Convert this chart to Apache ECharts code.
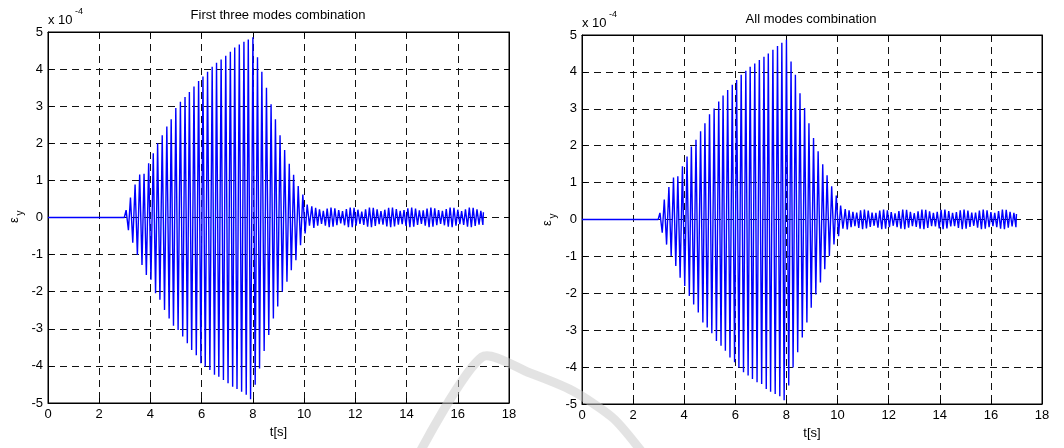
<!DOCTYPE html>
<html>
<head>
<meta charset="utf-8">
<script src="https://cdn.jsdelivr.net/npm/echarts@6/dist/echarts.min.js"></script>
<style>
html,body{margin:0;padding:0;background:#fff;}
#chart{width:1064px;height:448px;}
</style>
</head>
<body>
<div id="chart"></div>
<script>
// strain values are in units of 1e-4, time in seconds
var xTicks = [0, 2, 4, 6, 8, 10, 12, 14, 16, 18];
var yTicks = [-5, -4, -3, -2, -1, 0, 1, 2, 3, 4, 5];

// flat part before the excitation starts
var flatT = [0, 2.98];
var flatV = [0, 0];

// times of the extrema (shared by both plots)
var mainPeakT = [3.05, 3.22, 3.40, 3.58, 3.75, 3.93, 4.11, 4.28, 4.46, 4.64, 4.81, 4.99, 5.17, 5.35, 5.52, 5.70, 5.88, 6.05, 6.23, 6.41, 6.58, 6.76, 6.94, 7.12, 7.29, 7.47, 7.65, 7.82, 8.00, 8.18, 8.35, 8.53, 8.71, 8.88, 9.06, 9.24, 9.42, 9.59, 9.77, 9.95, 10.12];
var mainTroughT = [3.14, 3.31, 3.49, 3.67, 3.84, 4.02, 4.20, 4.37, 4.55, 4.73, 4.90, 5.08, 5.26, 5.44, 5.61, 5.79, 5.97, 6.14, 6.32, 6.50, 6.67, 6.85, 7.03, 7.21, 7.38, 7.56, 7.74, 7.91, 8.09, 8.26, 8.44, 8.62, 8.80, 8.97, 9.15, 9.33, 9.50, 9.68, 9.86, 10.04, 10.21];
var tailPeakT = [10.30, 10.45, 10.60, 10.75, 10.90, 11.05, 11.20, 11.35, 11.50, 11.65, 11.80, 11.95, 12.10, 12.25, 12.40, 12.55, 12.70, 12.85, 13.00, 13.15, 13.30, 13.45, 13.60, 13.75, 13.90, 14.05, 14.20, 14.35, 14.50, 14.65, 14.80, 14.95, 15.10, 15.25, 15.40, 15.55, 15.70, 15.85, 16.00, 16.15, 16.30, 16.45, 16.60, 16.75, 16.90, 17.00];
var tailTroughT = [10.38, 10.53, 10.68, 10.83, 10.98, 11.13, 11.28, 11.43, 11.58, 11.73, 11.88, 12.03, 12.18, 12.33, 12.48, 12.63, 12.78, 12.93, 13.08, 13.23, 13.38, 13.53, 13.68, 13.83, 13.98, 14.13, 14.28, 14.43, 14.58, 14.73, 14.88, 15.03, 15.18, 15.33, 15.48, 15.63, 15.78, 15.93, 16.08, 16.23, 16.38, 16.53, 16.68, 16.83, 16.98];

// First three modes combination
var firstPeaks = [0.20, 0.54, 0.89, 1.16, 1.18, 1.46, 1.73, 2.00, 2.22, 2.45, 2.65, 2.95, 3.12, 3.25, 3.38, 3.53, 3.68, 3.80, 3.93, 4.06, 4.17, 4.26, 4.36, 4.47, 4.58, 4.66, 4.74, 4.80, 4.86,
  4.32, 3.93, 3.50, 3.05, 2.65, 2.22, 1.82, 1.45, 1.15, 0.85, 0.62, 0.35];
var firstTroughs = [-0.34, -0.68, -1.01, -1.28, -1.55, -1.68, -2.04, -2.22, -2.49, -2.72, -2.92, -3.03, -3.21, -3.39, -3.57, -3.71, -3.93, -4.02, -4.11, -4.24, -4.29, -4.38, -4.47, -4.56, -4.62, -4.70, -4.78, -4.90,
  -4.51, -4.07, -3.60, -3.17, -2.72, -2.40, -2.00, -1.73, -1.42, -1.15, -0.75, -0.43, -0.22];
var firstTailPeaks = [0.30, 0.26, 0.22, 0.18, 0.24, 0.27, 0.25, 0.20, 0.17, 0.23, 0.27, 0.26, 0.21, 0.16, 0.22, 0.27, 0.26, 0.22, 0.17, 0.21, 0.26, 0.27, 0.23, 0.18, 0.20, 0.25, 0.27, 0.24, 0.19, 0.19, 0.24, 0.27, 0.25, 0.20, 0.18, 0.23, 0.27, 0.26, 0.21, 0.17, 0.22, 0.27, 0.26, 0.22, 0.18, 0.14];
var firstTailTroughs = [-0.28, -0.22, -0.17, -0.22, -0.26, -0.25, -0.21, -0.16, -0.21, -0.26, -0.26, -0.22, -0.17, -0.20, -0.25, -0.26, -0.23, -0.18, -0.19, -0.24, -0.26, -0.24, -0.19, -0.18, -0.23, -0.26, -0.25, -0.20, -0.17, -0.22, -0.26, -0.25, -0.21, -0.17, -0.21, -0.25, -0.26, -0.22, -0.18, -0.20, -0.25, -0.26, -0.23, -0.19, -0.20];

// All modes combination
var allPeaks = [0.18, 0.54, 0.88, 1.14, 1.17, 1.44, 1.71, 1.98, 2.16, 2.39, 2.61, 2.85, 3.01, 3.20, 3.36, 3.51, 3.65, 3.78, 3.92, 4.03, 4.14, 4.23, 4.32, 4.41, 4.50, 4.60, 4.70, 4.79, 4.87,
  4.28, 3.92, 3.42, 3.02, 2.61, 2.21, 1.85, 1.50, 1.20, 0.90, 0.65, 0.38];
var allTroughs = [-0.36, -0.68, -0.99, -1.26, -1.58, -1.80, -2.07, -2.30, -2.52, -2.79, -2.93, -3.08, -3.29, -3.42, -3.56, -3.74, -3.87, -4.01, -4.14, -4.23, -4.32, -4.41, -4.46, -4.59, -4.67, -4.73, -4.79, -4.90,
  -4.50, -4.01, -3.60, -3.20, -2.79, -2.39, -2.03, -1.71, -1.35, -0.99, -0.68, -0.45, -0.25];
var allTailPeaks = [0.28, 0.25, 0.21, 0.19, 0.25, 0.27, 0.24, 0.19, 0.18, 0.24, 0.27, 0.25, 0.20, 0.17, 0.23, 0.27, 0.26, 0.21, 0.17, 0.22, 0.27, 0.26, 0.22, 0.18, 0.21, 0.26, 0.27, 0.23, 0.18, 0.20, 0.25, 0.27, 0.24, 0.19, 0.19, 0.24, 0.27, 0.25, 0.20, 0.18, 0.23, 0.27, 0.26, 0.21, 0.18, 0.15];
var allTailTroughs = [-0.27, -0.21, -0.18, -0.23, -0.26, -0.24, -0.20, -0.17, -0.22, -0.26, -0.25, -0.21, -0.17, -0.21, -0.25, -0.26, -0.22, -0.18, -0.20, -0.25, -0.26, -0.23, -0.18, -0.19, -0.24, -0.26, -0.24, -0.19, -0.18, -0.23, -0.26, -0.25, -0.20, -0.17, -0.22, -0.26, -0.25, -0.21, -0.18, -0.21, -0.25, -0.26, -0.22, -0.19, -0.21];

function interleave(out, upT, upV, downT, downV){
  var n = Math.max(upT.length, downT.length);
  for( var i = 0 ; i < n ; i++ ){
    if( i < upT.length && i < upV.length ){
      out.push([upT[i], upV[i]]);
    }
    if( i < downT.length && i < downV.length ){
      out.push([downT[i], downV[i]]);
    }
  }
  return out;
}

function buildData(peaks, troughs, tailPeaks, tailTroughs){
  var data = [];
  for( var i = 0 ; i < flatT.length ; i++ ){
    data.push([flatT[i], flatV[i]]);
  }
  interleave(data, mainPeakT, peaks, mainTroughT, troughs);
  interleave(data, tailPeakT, tailPeaks, tailTroughT, tailTroughs);
  return data;
}

var FONT = 'Arial, "Liberation Sans", sans-serif';

function makeX(grid, pos){
  var main = pos == 'bottom';
  return {
    type: 'value', gridIndex: grid, position: pos,
    min: xTicks[0], max: xTicks[xTicks.length-1], interval: xTicks[1]-xTicks[0],
    axisLine: {onZero: false, lineStyle: {color: '#000', width: 1}},
    axisTick: {inside: true, length: 5, lineStyle: {color: '#000'}},
    axisLabel: {show: main, color: '#000', fontSize: 13, margin: 5, fontFamily: FONT},
    splitLine: {show: main, lineStyle: {color: '#111', width: 1, type: [7, 5]}},
    name: main ? 't[s]' : '', nameLocation: 'middle', nameGap: 22,
    nameTextStyle: {color: '#000', fontSize: 13, fontFamily: FONT}
  };
}

function makeY(grid, pos){
  var main = pos == 'left';
  return {
    type: 'value', gridIndex: grid, position: pos,
    min: yTicks[0], max: yTicks[yTicks.length-1], interval: yTicks[1]-yTicks[0],
    axisLine: {onZero: false, lineStyle: {color: '#000', width: 1}},
    axisTick: {inside: true, length: 5, lineStyle: {color: '#000'}},
    axisLabel: {show: main, color: '#000', fontSize: 13, margin: 5, fontFamily: FONT},
    splitLine: {show: main, lineStyle: {color: '#111', width: 1, type: [7, 5]}}
  };
}

function txt(x, y, s, size, align, rot){
  return {
    type: 'text', x: x, y: y, rotation: rot || 0, z: 10,
    style: {text: s, fill: '#000', fontSize: size, fontFamily: FONT, align: align || 'center', verticalAlign: 'middle'}
  };
}

var chart = echarts.init(document.getElementById('chart'), null, {renderer: 'canvas'});

var option = {
  backgroundColor: '#fff',
  animation: false,
  grid: [
    {left: 48, top: 32, width: 461, height: 371, show: true, borderColor: '#000', borderWidth: 1, containLabel: false},
    {left: 582, top: 35, width: 460, height: 369, show: true, borderColor: '#000', borderWidth: 1, containLabel: false}
  ],
  xAxis: [makeX(0, 'bottom'), makeX(0, 'top'), makeX(1, 'bottom'), makeX(1, 'top')],
  yAxis: [makeY(0, 'left'), makeY(0, 'right'), makeY(1, 'left'), makeY(1, 'right')],
  series: [
    {
      type: 'line', xAxisIndex: 0, yAxisIndex: 0, showSymbol: false, sampling: null,
      lineStyle: {color: '#0000ff', width: 1.4}, z: 3,
      data: buildData(firstPeaks, firstTroughs, firstTailPeaks, firstTailTroughs)
    },
    {
      type: 'line', xAxisIndex: 2, yAxisIndex: 2, showSymbol: false, sampling: null,
      lineStyle: {color: '#0000ff', width: 1.4}, z: 3,
      data: buildData(allPeaks, allTroughs, allTailPeaks, allTailTroughs)
    }
  ],
  graphic: [
    txt(278, 15, 'First three modes combination', 13),
    txt(811, 19, 'All modes combination', 13),
    txt(48, 20, 'x 10', 13, 'left'),
    txt(75, 12, '-4', 9, 'left'),
    txt(582, 23, 'x 10', 13, 'left'),
    txt(609, 15, '-4', 9, 'left'),
    txt(14, 220, 'ε', 13, 'center', Math.PI/2),
    txt(20, 213, 'y', 10, 'center', Math.PI/2),
    txt(547, 223, 'ε', 13, 'center', Math.PI/2),
    txt(553, 216, 'y', 10, 'center', Math.PI/2),
    // faint watermark arc
    {
      type: 'polyline', z: 20, silent: true,
      shape: {points: [[420, 452], [482, 357], [530, 373], [573, 391], [613, 418], [642, 452]], smooth: 0.25},
      style: {stroke: 'rgba(200,200,200,0.5)', lineWidth: 9, fill: null}
    }
  ]
};

chart.setOption(option);
</script>
</body>
</html>
